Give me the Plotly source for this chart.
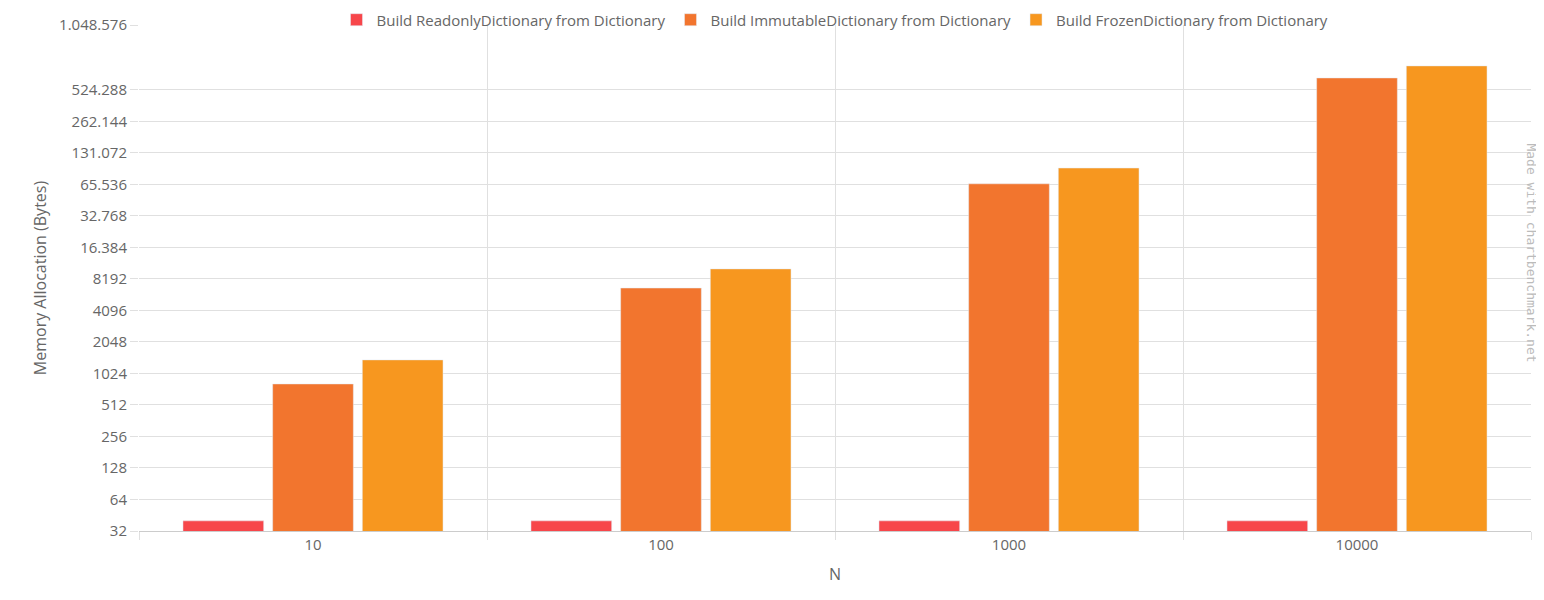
import plotly.graph_objects as go

categories = ["10", "100", "1000", "10000"]
readonly = [40, 40, 40, 40]
immutable = [813, 6710, 66450, 682000]
frozen = [1380, 10220, 94000, 889000]
tick_vals = [2**k for k in range(5, 20)] + [2**21.06]
tick_text = ["32", "64", "128", "256", "512", "1024", "2048", "4096", "8192",
             "16.384", "32.768", "65.536", "131.072", "262.144", "524.288", "1.048.576"]

fig = go.Figure()
for name, vals, col in [
    ("Build ReadonlyDictionary from Dictionary", readonly, "#F7464A"),
    ("Build ImmutableDictionary from Dictionary", immutable, "#F2752E"),
    ("Build FrozenDictionary from Dictionary", frozen, "#F7971F"),
]:
    fig.add_trace(go.Bar(x=categories, y=vals, name=name, marker_color=col))

fig.update_layout(
    width=1544, height=600, plot_bgcolor="white", paper_bgcolor="white",
    margin=dict(l=131, r=21, t=17, b=77, autoexpand=False),
    font=dict(family="Open Sans", size=15, color="#666"),
    bargap=0.227, bargroupgap=0.1,
    legend=dict(orientation="h", x=0.5, xanchor="center", y=1.01, yanchor="middle",
                font=dict(size=15, color="#666"), itemwidth=30, bgcolor="rgba(0,0,0,0)"),
    xaxis=dict(type="category", range=[-0.5, 3.5], tickson="boundaries",
               showgrid=True, gridcolor="#e0e0e0", ticks="outside", ticklen=8,
               tickcolor="#e0e0e0", showline=True, linecolor="#ccc",
               title=dict(text="N", font=dict(size=16)), tickfont=dict(size=15)),
    yaxis=dict(type="log", range=[5 * 0.30103, 21.06 * 0.30103],
               tickvals=tick_vals, ticktext=tick_text, showgrid=True,
               gridcolor="#e0e0e0", ticks="outside", ticklen=8, tickcolor="#e0e0e0",
               title=dict(text="Memory Allocation (Bytes)", font=dict(size=16), standoff=8),
               tickfont=dict(size=15), zeroline=False),
)
fig.add_annotation(text="Made with chartbenchmark.net", xref="paper", yref="paper",
                   x=1.007, y=0.55, textangle=90, showarrow=False,
                   font=dict(family="DejaVu Sans Mono", size=13, color="#bbb"))
fig.write_html("out.html")
